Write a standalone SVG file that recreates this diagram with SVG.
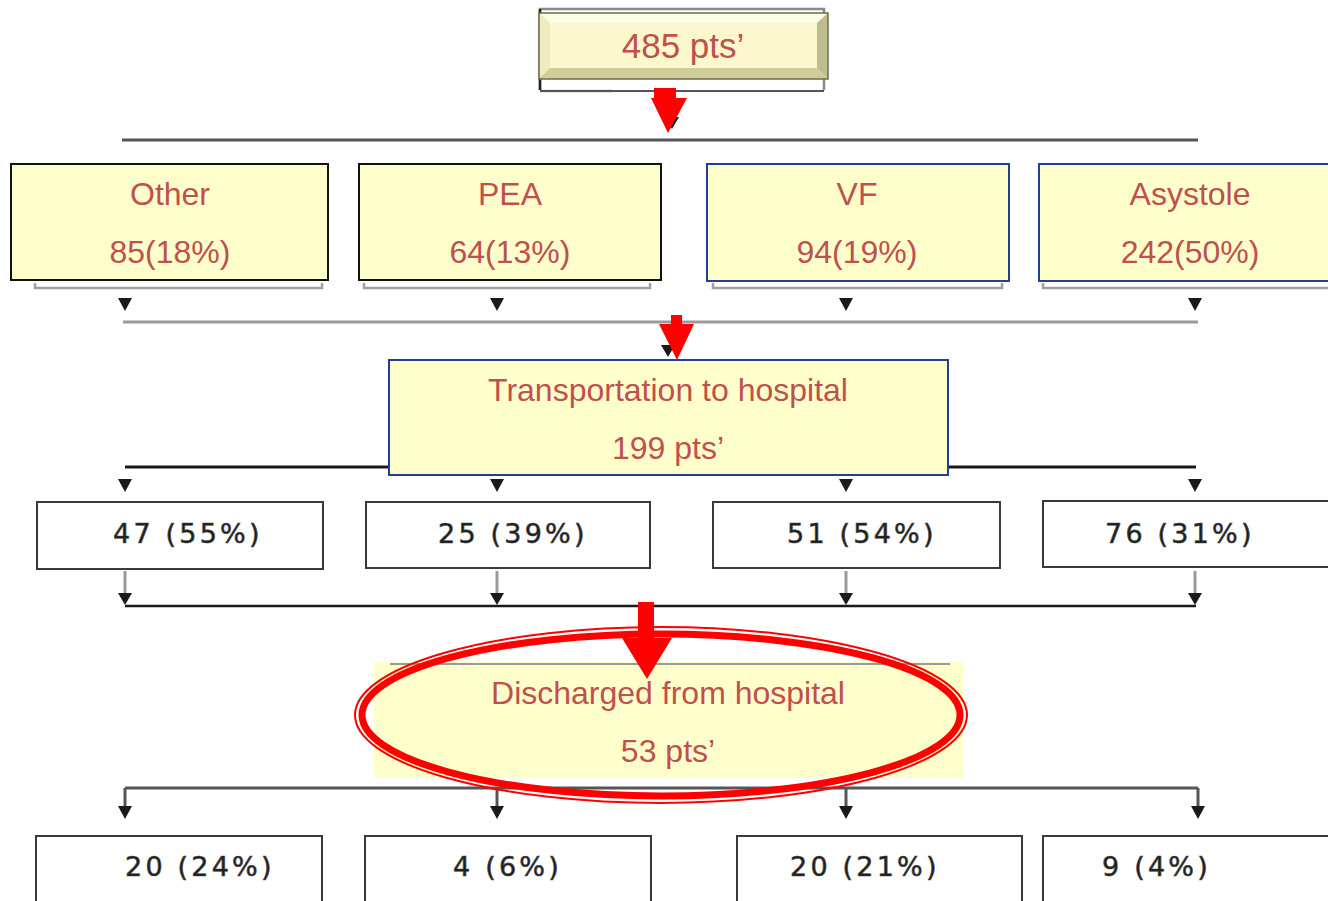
<svg xmlns="http://www.w3.org/2000/svg" width="1328" height="901" viewBox="0 0 1328 901">
<defs>
<style>
.ybox{fill:#ffffcc;stroke-width:2}
.blk{stroke:#111}
.blu{stroke:#1f3f99}
.rt{font-family:"Liberation Sans",Arial,sans-serif;font-size:32px;fill:#c0504d;text-anchor:middle}
.wbox{fill:#fff;stroke:#3a3a3a;stroke-width:2}
.nt{font-family:"DejaVu Sans",Verdana,sans-serif;font-size:27px;fill:#1e1e1e;stroke:#444;stroke-width:0.6px;letter-spacing:3.2px}
.ln{stroke:#555;stroke-width:3;fill:none}
.lg{stroke:#9a9a9a;stroke-width:3;fill:none}
.br{stroke:#a0a0a0;stroke-width:2.5;fill:none}
.ah{fill:#1a1a1a}
.red{fill:#ff0000}
</style>
</defs>
<rect width="1328" height="901" fill="#fff"/>

<g id="connectors">
  <line x1="540" y1="91" x2="612" y2="91" class="br"/>
  <line x1="122" y1="140" x2="1198" y2="140" class="ln"/>
  <polygon class="ah" points="665,117 679,117 672,129"/>
  <polyline class="br" points="35,283 35,288 322,288 322,283"/>
  <polyline class="br" points="364,283 364,288 650,288 650,283"/>
  <polyline class="br" points="713,283 713,288 1002,288 1002,283"/>
  <polyline class="br" points="1043,283 1043,288 1328,288"/>
  <polygon class="ah" points="118,298 132,298 125,311"/>
  <polygon class="ah" points="490,298 504,298 497,311"/>
  <polygon class="ah" points="839,298 853,298 846,311"/>
  <polygon class="ah" points="1188,298 1202,298 1195,311"/>
  <line x1="123" y1="322" x2="1198" y2="322" class="lg"/>
  <polygon class="ah" points="661,345 675,345 668,357"/>
  <line x1="125" y1="467" x2="389" y2="467" stroke="#1a1a1a" stroke-width="3"/>
  <line x1="948" y1="467" x2="1196" y2="467" stroke="#1a1a1a" stroke-width="3"/>
  <polygon class="ah" points="118,479 132,479 125,492"/>
  <polygon class="ah" points="490,479 504,479 497,492"/>
  <polygon class="ah" points="839,479 853,479 846,492"/>
  <polygon class="ah" points="1188,479 1202,479 1195,492"/>
  <line x1="125" y1="571" x2="125" y2="596" class="lg"/>
  <line x1="497" y1="571" x2="497" y2="596" class="lg"/>
  <line x1="846" y1="571" x2="846" y2="596" class="lg"/>
  <line x1="1195" y1="571" x2="1195" y2="596" class="lg"/>
  <polygon class="ah" points="118,593 132,593 125,605"/>
  <polygon class="ah" points="490,593 504,593 497,605"/>
  <polygon class="ah" points="839,593 853,593 846,605"/>
  <polygon class="ah" points="1188,593 1202,593 1195,605"/>
  <line x1="125" y1="606" x2="1196" y2="606" stroke="#1a1a1a" stroke-width="2.5"/>
  <line x1="125" y1="788" x2="1198" y2="788" class="ln"/>
  <line x1="125" y1="788" x2="125" y2="808" class="ln"/>
  <line x1="497" y1="788" x2="497" y2="808" class="ln"/>
  <line x1="846" y1="788" x2="846" y2="808" class="ln"/>
  <line x1="1198" y1="788" x2="1198" y2="808" class="ln"/>
  <polygon class="ah" points="118,806 132,806 125,819"/>
  <polygon class="ah" points="490,806 504,806 497,819"/>
  <polygon class="ah" points="839,806 853,806 846,819"/>
  <polygon class="ah" points="1191,806 1205,806 1198,819"/>
</g>

<g id="node-485">
  <polyline points="540,90 540,9 824,9 824,90" fill="none" stroke="#8a8a8a" stroke-width="2.5"/>
  <line x1="540" y1="9" x2="540" y2="90" stroke="#222" stroke-width="2.5"/>
  <line x1="540" y1="91" x2="824" y2="91" stroke="#555" stroke-width="2"/>
  <rect x="539" y="13" width="289" height="66" fill="#f4f2c0"/>
  <polygon points="539,13 828,13 817,23 550,23" fill="#fdfde6"/>
  <polygon points="539,13 550,23 550,68 539,79" fill="#eeecbc"/>
  <polygon points="539,79 550,68 817,68 828,79" fill="#cfcd9c"/>
  <polygon points="828,13 828,79 817,68 817,23" fill="#bebc8c"/>
  <rect x="550" y="23" width="267" height="45" fill="#fbf9cc"/>
  <rect x="539" y="13" width="289" height="66" fill="none" stroke="#6e6c4c" stroke-width="1.5"/>
  <text x="683" y="58" class="rt" style="font-size:35px">485 pts’</text>
</g>

<g id="node-other">
  <rect x="11" y="164" width="317" height="116" class="ybox blk"/>
  <text x="170" y="205" class="rt">Other</text>
  <text x="170" y="263" class="rt">85(18%)</text>
</g>
<g id="node-pea">
  <rect x="359" y="164" width="302" height="116" class="ybox blk"/>
  <text x="510" y="205" class="rt">PEA</text>
  <text x="510" y="263" class="rt">64(13%)</text>
</g>
<g id="node-vf">
  <rect x="707" y="164" width="302" height="117" class="ybox blu"/>
  <text x="857" y="205" class="rt">VF</text>
  <text x="857" y="263" class="rt">94(19%)</text>
</g>
<g id="node-asystole">
  <rect x="1039" y="164" width="295" height="117" class="ybox blu"/>
  <text x="1190" y="205" class="rt">Asystole</text>
  <text x="1190" y="263" class="rt">242(50%)</text>
</g>

<g id="node-transport">
  <rect x="389" y="360" width="559" height="115" class="ybox blu"/>
  <text x="668" y="401" class="rt">Transportation to hospital</text>
  <text x="668" y="459" class="rt">199 pts’</text>
</g>

<g id="node-r3-other">
  <rect x="37" y="502" width="286" height="67" class="wbox"/>
  <text x="113" y="543" class="nt">47 (55%)</text>
</g>
<g id="node-r3-pea">
  <rect x="366" y="502" width="284" height="66" class="wbox"/>
  <text x="438" y="543" class="nt">25 (39%)</text>
</g>
<g id="node-r3-vf">
  <rect x="713" y="502" width="287" height="66" class="wbox"/>
  <text x="787" y="543" class="nt">51 (54%)</text>
</g>
<g id="node-r3-asystole">
  <rect x="1043" y="501" width="286" height="66" class="wbox"/>
  <text x="1105" y="543" class="nt">76 (31%)</text>
</g>

<g id="node-discharged">
  <rect x="374" y="662" width="589" height="116" fill="#ffffcc"/>
  <line x1="390" y1="664" x2="950" y2="664" stroke="#999" stroke-width="2"/>
  <text x="668" y="704" class="rt">Discharged from hospital</text>
  <text x="668" y="762" class="rt">53 pts’</text>
</g>

<g id="node-r5-other">
  <rect x="36" y="836" width="286" height="70" class="wbox"/>
  <text x="125" y="876" class="nt">20 (24%)</text>
</g>
<g id="node-r5-pea">
  <rect x="365" y="836" width="286" height="70" class="wbox"/>
  <text x="453" y="876" class="nt">4 (6%)</text>
</g>
<g id="node-r5-vf">
  <rect x="737" y="836" width="285" height="70" class="wbox"/>
  <text x="790" y="876" class="nt">20 (21%)</text>
</g>
<g id="node-r5-asystole">
  <rect x="1043" y="836" width="290" height="70" class="wbox"/>
  <text x="1102" y="876" class="nt">9 (4%)</text>
</g>

<g id="red-arrows">
  <polygon class="red" points="654,88 676,88 676,98 687,98 668,133 651,98 654,98"/>
  <polygon class="red" points="671,315 682,315 682,324 694,324 677,360 659,324 671,324"/>
  <polygon class="red" points="638,602 654,602 654,638 672,638 647,679 622,638 638,638"/>
</g>

<g id="highlight">
  <ellipse cx="661" cy="715" rx="306" ry="88" fill="none" stroke="#ff0000" stroke-width="2"/>
  <ellipse cx="661" cy="715" rx="299" ry="81" fill="none" stroke="#ff0000" stroke-width="7"/>
</g>
</svg>
